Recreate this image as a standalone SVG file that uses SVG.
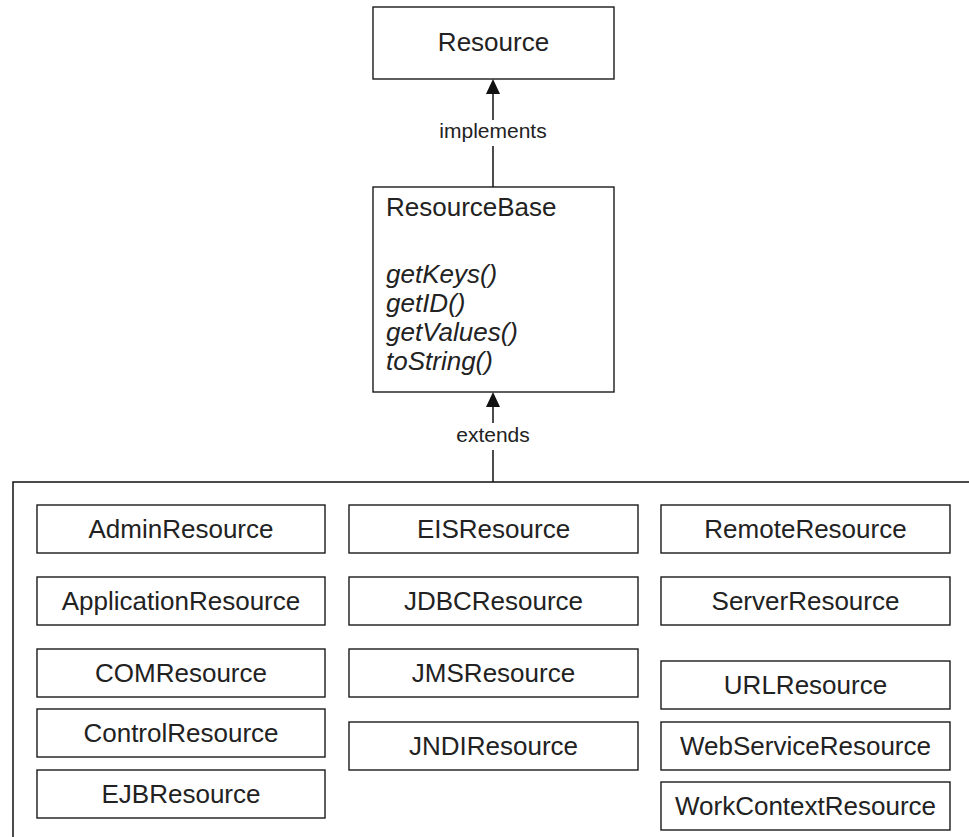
<svg xmlns="http://www.w3.org/2000/svg" width="969" height="837" viewBox="0 0 969 837">
<style>
.box{fill:#fff;stroke:#1a1a1a;stroke-width:1.4}
.t{font-family:"Liberation Sans",Arial,sans-serif;font-size:26px;fill:#222;text-anchor:middle}
.tl{font-family:"Liberation Sans",Arial,sans-serif;font-size:26px;fill:#222}
.it{font-style:italic}
.lbl{font-family:"Liberation Sans",Arial,sans-serif;font-size:21px;fill:#222;text-anchor:middle}
.ln{stroke:#111;stroke-width:1.5;fill:none}
</style>
<defs>
<marker id="arr" viewBox="0 0 14 15" refX="7" refY="0" markerWidth="14" markerHeight="15" markerUnits="userSpaceOnUse" orient="auto-start-reverse">
<path d="M7 0 L14 15 L0 15 Z" fill="#111"/>
</marker>
</defs>
<rect width="969" height="837" fill="#fff"/>
<g id="connectors">
<path class="ln" d="M493 94 V120"/>
<path d="M493 79 L500 94 L486 94 Z" fill="#111"/>
<path class="ln" d="M493 146 V187"/>
<text class="lbl" x="493" y="138">implements</text>
<path class="ln" d="M493 407 V423"/>
<path d="M493 392 L500 407 L486 407 Z" fill="#111"/>
<path class="ln" d="M493 450 V482"/>
<text class="lbl" x="493" y="442">extends</text>
</g>
<g id="Resource">
<rect class="box" x="373" y="7" width="241" height="72"/>
<text class="t" x="493.5" y="51">Resource</text>
</g>
<g id="ResourceBase">
<rect class="box" x="373" y="187" width="241" height="205"/>
<text class="tl" x="386" y="216">ResourceBase</text>
<text class="tl it" x="386" y="283">getKeys()</text>
<text class="tl it" x="386" y="312">getID()</text>
<text class="tl it" x="386" y="341">getValues()</text>
<text class="tl it" x="386" y="370">toString()</text>
</g>
<g id="container">
<path class="ln" d="M13 837 V482 H969"/>
</g>
<g id="AdminResource"><rect class="box" x="37" y="505" width="288" height="48"/><text class="t" x="181" y="538">AdminResource</text></g>
<g id="ApplicationResource"><rect class="box" x="37" y="577" width="288" height="48"/><text class="t" x="181" y="610">ApplicationResource</text></g>
<g id="COMResource"><rect class="box" x="37" y="649" width="288" height="48"/><text class="t" x="181" y="682">COMResource</text></g>
<g id="ControlResource"><rect class="box" x="37" y="709" width="288" height="48"/><text class="t" x="181" y="742">ControlResource</text></g>
<g id="EJBResource"><rect class="box" x="37" y="770" width="288" height="48"/><text class="t" x="181" y="803">EJBResource</text></g>
<g id="EISResource"><rect class="box" x="349" y="505" width="289" height="48"/><text class="t" x="493.5" y="538">EISResource</text></g>
<g id="JDBCResource"><rect class="box" x="349" y="577" width="289" height="48"/><text class="t" x="493.5" y="610">JDBCResource</text></g>
<g id="JMSResource"><rect class="box" x="349" y="649" width="289" height="48"/><text class="t" x="493.5" y="682">JMSResource</text></g>
<g id="JNDIResource"><rect class="box" x="349" y="722" width="289" height="48"/><text class="t" x="493.5" y="755">JNDIResource</text></g>
<g id="RemoteResource"><rect class="box" x="661" y="505" width="289" height="48"/><text class="t" x="805.5" y="538">RemoteResource</text></g>
<g id="ServerResource"><rect class="box" x="661" y="577" width="289" height="48"/><text class="t" x="805.5" y="610">ServerResource</text></g>
<g id="URLResource"><rect class="box" x="661" y="661" width="289" height="48"/><text class="t" x="805.5" y="694">URLResource</text></g>
<g id="WebServiceResource"><rect class="box" x="661" y="722" width="289" height="48"/><text class="t" x="805.5" y="755">WebServiceResource</text></g>
<g id="WorkContextResource"><rect class="box" x="661" y="782" width="289" height="48"/><text class="t" x="805.5" y="815">WorkContextResource</text></g>
</svg>
